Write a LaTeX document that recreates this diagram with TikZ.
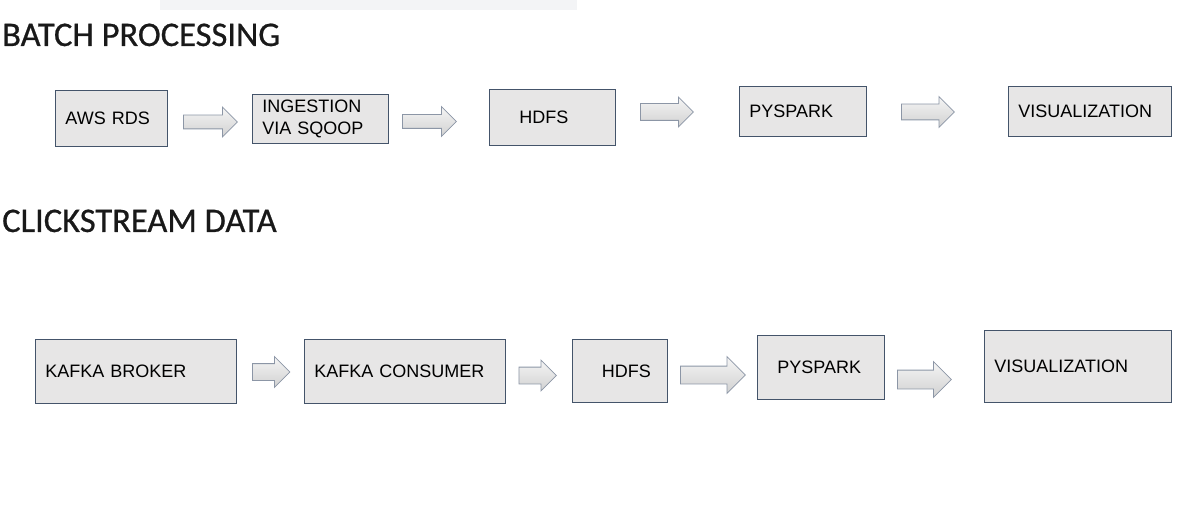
\documentclass[tikz,border=0pt]{standalone}
\usepackage{fontspec}
\usepackage{tikz}
\usetikzlibrary{shapes.arrows}
\newfontfamily\boxfont{Liberation Sans}
\newfontfamily\headfont[FakeBold=0.7]{Carlito}
\definecolor{boxfill}{HTML}{E7E6E6}
\definecolor{boxline}{HTML}{44546A}
\definecolor{arrowline}{HTML}{8C96A6}
\definecolor{topbar}{HTML}{F3F4F6}

\begin{document}
\begin{tikzpicture}[x=1pt, y=-1pt,
    stage/.style={draw=boxline, fill=boxfill, line width=0.9pt, anchor=north west,
        align=left, inner xsep=10pt, inner ysep=0pt, font=\boxfont\fontsize{18}{22}\selectfont},
    flow/.style={single arrow, draw=arrowline, line width=0.8pt, top color=white!96!black,
        bottom color=white!82!black, anchor=tail, inner xsep=0pt, single arrow tip angle=90},
    title/.style={anchor=base west, inner sep=0pt, text=black!90, font=\headfont\fontsize{34.5}{40}\selectfont}]
    \useasboundingbox (0,0) rectangle (1193,518);
    \fill [topbar] (160,0) rectangle (577,10);
    % batch processing
    \node (batch) at (2,46) [title] {BATCH PROCESSING};
    \node (rds) at (55,90) [stage, text width=92pt, minimum height=56pt] {AWS RDS};
    \node (sqoop) at (252,94) [stage, text width=116pt, minimum height=49pt] {INGESTION\\VIA SQOOP};
    \node (hdfs) at (489,89) [stage, text width=66pt, inner xsep=30pt, minimum height=56pt] {HDFS};
    \node (spark) at (739,86) [stage, text width=107pt, minimum height=50pt] {PYSPARK};
    \node (viz) at (1008,86) [stage, text width=143pt, minimum height=50pt] {VISUALIZATION};
    \node (b1) at (183,122) [flow, minimum height=54pt, inner ysep=6.5pt, single arrow head extend=8pt] {};
    \node (b2) at (402,121.5) [flow, minimum height=54pt, inner ysep=6.5pt, single arrow head extend=8pt] {};
    \node (b3) at (640,112) [flow, minimum height=53pt, inner ysep=8pt, single arrow head extend=6.5pt] {};
    \node (b4) at (901,112) [flow, minimum height=53pt, inner ysep=7.5pt, single arrow head extend=7.5pt] {};
    % clickstream data
    \node (click) at (2,232) [title] {CLICKSTREAM DATA};
    \node (broker) at (35,339) [stage, text width=181pt, minimum height=64pt] {KAFKA BROKER};
    \node (consumer) at (304,339) [stage, text width=181pt, minimum height=64pt] {KAFKA CONSUMER};
    \node (hdfs2) at (571.5,339) [stage, text width=35pt, inner xsep=30pt, minimum height=63pt] {HDFS};
    \node (spark2) at (757,335) [stage, text width=87pt, inner xsep=20pt, minimum height=64pt] {PYSPARK};
    \node (viz2) at (984,330) [stage, text width=167pt, minimum height=72pt] {VISUALIZATION};
    \node (c1) at (252,372) [flow, minimum height=37.5pt, inner ysep=8pt, single arrow head extend=7pt] {};
    \node (c2) at (518.5,375.5) [flow, minimum height=37.5pt, inner ysep=8pt, single arrow head extend=7pt] {};
    \node (c3) at (680,375) [flow, minimum height=65pt, inner ysep=8.5pt, single arrow head extend=9.5pt] {};
    \node (c4) at (897,379.5) [flow, minimum height=54pt, inner ysep=9pt, single arrow head extend=8.5pt] {};
\end{tikzpicture}
\end{document}
